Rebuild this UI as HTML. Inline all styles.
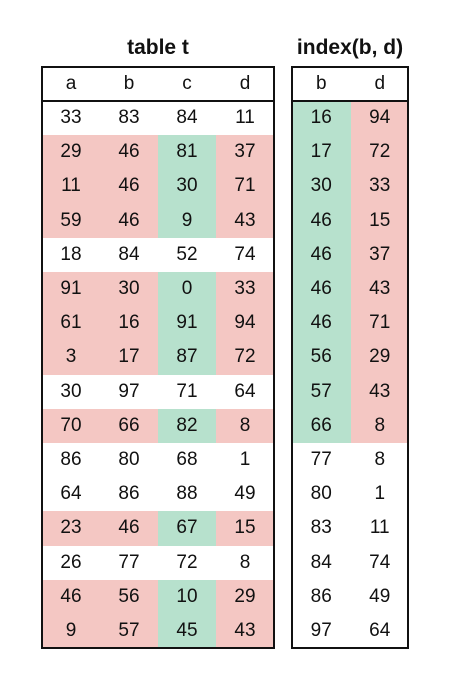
<!DOCTYPE html>
<html><head><meta charset="utf-8"><style>
body{margin:0;width:450px;height:680px;background:#fff;font-family:"Liberation Sans",Arial,sans-serif;position:relative;overflow:hidden}
.t{position:absolute;box-sizing:border-box;border:2px solid #111}
.title{position:absolute;font-weight:bold;font-size:21px;text-align:center;color:#111}
.c{position:absolute;text-align:center;font-size:19px;color:#111;line-height:34px;height:34px}
.hl{position:absolute;border-top:2px solid #111}
</style></head><body>
<div class="title" style="left:42px;width:232px;top:36px">table t</div>
<div class="title" style="left:282px;width:136px;top:36px">index(b, d)</div>
<div id="cells"></div>
<div class="t" style="left:41px;top:66px;width:234px;height:583px"></div>
<div class="hl" style="left:42px;top:100px;width:232px"></div>
<div class="t" style="left:291px;top:66px;width:118px;height:583px"></div>
<div class="hl" style="left:292px;top:100px;width:117px"></div>
<script>
const colsT=["a","b","c","d"];
const colA=[33,29,11,59,18,91,61,3,30,70,86,64,23,26,46,9];
const colB=[83,46,46,46,84,30,16,17,97,66,80,86,46,77,56,57];
const colC=[84,81,30,9,52,0,91,87,71,82,68,88,67,72,10,45];
const colD=[11,37,71,43,74,33,94,72,64,8,1,49,15,8,29,43];
const matched=[0,1,1,1,0,1,1,1,0,1,0,0,1,0,1,1];
const idxB=[16,17,30,46,46,46,46,56,57,66,77,80,83,84,86,97];
const idxD=[94,72,33,15,37,43,71,29,43,8,8,1,11,74,49,64];
const idxMatched=[1,1,1,1,1,1,1,1,1,1,0,0,0,0,0,0];
const PINK="#f4c7c3",GREEN="#b7e1cd";
const root=document.getElementById('cells');
const rowY=i=>101+i*34.2;
function cell(x,y,w,txt,bg,name){
  const el=document.createElement('div');
  el.className='c';
  
  
  el.style.left=x+'px';el.style.top=y+'px';el.style.width=w+'px';
  el.style.height='34.4px';
  if(bg)el.style.background=bg;
  el.textContent=txt;
  root.appendChild(el);
}
colsT.forEach((h,j)=>cell(42+j*58,67,58,h,null,'header-'+h));
["b","d"].forEach((h,j)=>cell(292+j*58.5,67,58.5,h,null,'index-header-'+h));
const tcols=[colA,colB,colC,colD];
for(let i=0;i<colA.length;i++){
  tcols.forEach((col,j)=>{
    let bg=null;
    if(matched[i])bg=(j==2)?GREEN:PINK;
    cell(42+j*58,rowY(i),58,String(col[i]),bg,'cell-'+colsT[j]+'-'+i);
  });
  cell(292,rowY(i),58.5,String(idxB[i]),idxMatched[i]?GREEN:null,'index-b-'+i);
  cell(350.5,rowY(i),58.5,String(idxD[i]),idxMatched[i]?PINK:null,'index-d-'+i);
}
</script>
</body></html>
